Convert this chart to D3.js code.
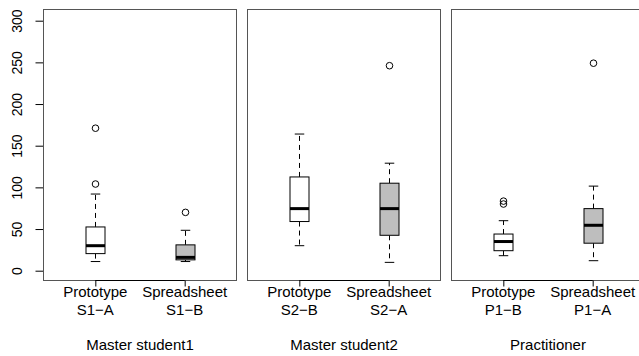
<!DOCTYPE html>
<html><head><meta charset="utf-8">
<script src="https://cdn.jsdelivr.net/npm/d3@7/dist/d3.min.js"></script>
<style>body{margin:0;background:#fff}svg{display:block}text{font-family:"Liberation Sans",Arial,sans-serif;fill:#000}</style>
</head><body><div id="chart"></div>
<script>
// ---- data ----
const panelTitles = ["Master student1", "Master student2", "Practitioner"];
const toolNames = ["Prototype", "Spreadsheet"];
const groupCodes = [["S1\u2212A", "S1\u2212B"], ["S2\u2212B", "S2\u2212A"], ["P1\u2212B", "P1\u2212A"]];
// box statistics, in order: panel1 (Prototype, Spreadsheet), panel2 (...), panel3 (...)
const whiskerLow  = [11, 11, 30, 10, 18, 12];
const q1          = [20.5, 13, 59, 42.5, 24, 33];
const median      = [30, 16, 74.5, 74.5, 35, 54.5];
const q3          = [52.5, 31, 112.5, 105, 44, 74.5];
const whiskerHigh = [92, 48.5, 164, 129, 60, 101.5];
const outliers    = [[104, 171], [70], [], [246], [80, 83.5], [249]];
const yTicks = [0, 50, 100, 150, 200, 250, 300];
const boxFills = ["#ffffff", "#bebebe"];

// ---- layout ----
const W = 639, H = 356;
const svg = d3.select("#chart").append("svg").attr("width", W).attr("height", H);
const frameTop = 9.5, frameBottom = 280.5, pw = 193;
const lefts = [43.5, 247.5, 451.5];
const y = d3.scaleLinear().domain([0, 300]).range([270.7, 20.7]);

// left axis
const ax = svg.append("g").attr("transform", `translate(${lefts[0]},0)`)
  .call(d3.axisLeft(y).tickValues(yTicks).tickSize(8).tickPadding(0).tickFormat(d3.format("d")));
ax.selectAll(".domain").attr("d", `M0,${y(0)}V${y(300)}`).attr("stroke", "#000");
ax.selectAll(".tick line").attr("stroke", "#000");
ax.selectAll(".tick text")
  .attr("font-size", 14).attr("x", null).attr("dy", null)
  .attr("text-anchor", "middle")
  .attr("transform", "translate(-22,0) rotate(-90)");

panelTitles.forEach((title, p) => {
  const L = lefts[p];
  const x = d3.scaleLinear().domain([0.42, 2.58]).range([L, L + pw]);
  const g = svg.append("g");
  // frame
  g.append("rect").attr("x", L).attr("y", frameTop).attr("width", pw).attr("height", frameBottom - frameTop)
    .attr("fill", "none").attr("stroke", "#555").attr("stroke-width", 1);
  // bottom axis
  const xa = g.append("g").attr("transform", `translate(0,${frameBottom})`)
    .call(d3.axisBottom(x).tickValues([1, 2]).tickSize(6).tickFormat(""));
  xa.select(".domain").attr("d", `M${x(1)},0H${x(2)}`).attr("stroke", "#000");
  xa.selectAll(".tick line").attr("stroke", "#000");
  // tick labels (two lines)
  toolNames.forEach((t, i) => {
    const tx = g.append("text").attr("x", x(i + 1)).attr("text-anchor", "middle").attr("font-size", 15);
    tx.append("tspan").attr("x", x(i + 1)).attr("y", 296.5).text(t);
    tx.append("tspan").attr("x", x(i + 1)).attr("y", 314.5).text(groupCodes[p][i]);
  });
  g.append("text").attr("x", L + pw / 2).attr("y", 350).attr("text-anchor", "middle")
    .attr("font-size", 15).text(title);

  // boxes
  [0, 1].forEach(i => {
    const k = p * 2 + i;
    const cx = Math.round(x(i + 1)) + 0.5;
    const bw = 19, cw = 9.5;
    const bg = g.append("g");
    bg.append("line").attr("x1", cx).attr("x2", cx).attr("y1", y(q3[k])).attr("y2", y(whiskerHigh[k]))
      .attr("stroke", "#000").attr("stroke-dasharray", "5,4");
    bg.append("line").attr("x1", cx).attr("x2", cx).attr("y1", y(q1[k])).attr("y2", y(whiskerLow[k]))
      .attr("stroke", "#000").attr("stroke-dasharray", "5,4");
    [whiskerHigh[k], whiskerLow[k]].forEach(v => {
      bg.append("line").attr("x1", cx - cw / 2).attr("x2", cx + cw / 2).attr("y1", y(v)).attr("y2", y(v))
        .attr("stroke", "#000");
    });
    bg.append("rect").attr("x", cx - bw / 2).attr("width", bw)
      .attr("y", y(q3[k])).attr("height", y(q1[k]) - y(q3[k]))
      .attr("fill", boxFills[i]).attr("stroke", "#000").attr("stroke-width", 1);
    bg.append("line").attr("x1", cx - bw / 2).attr("x2", cx + bw / 2)
      .attr("y1", y(median[k])).attr("y2", y(median[k]))
      .attr("stroke", "#000").attr("stroke-width", 3);
    bg.selectAll("circle").data(outliers[k]).join("circle")
      .attr("cx", cx).attr("cy", d => y(d)).attr("r", 3.3)
      .attr("fill", "none").attr("stroke", "#000").attr("stroke-width", 1);
  });
});
</script>
</body></html>
